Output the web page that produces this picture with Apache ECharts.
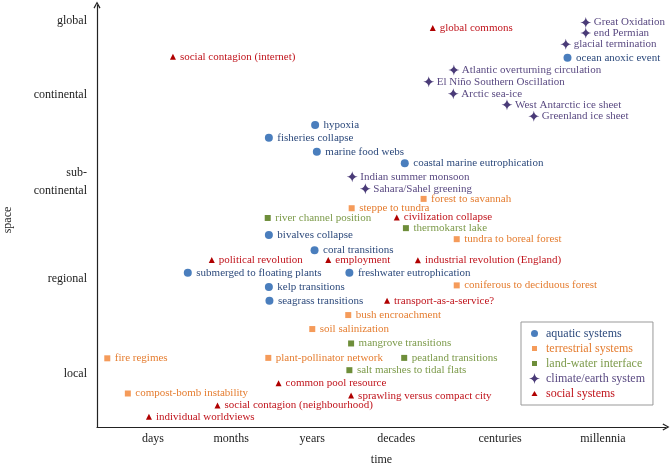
<!DOCTYPE html>
<html><head><meta charset="utf-8">
<script src="https://cdn.jsdelivr.net/npm/echarts@6/dist/echarts.min.js"></script>
<style>html,body{margin:0;padding:0;background:#fff}#c{width:671px;height:468px}</style>
</head><body><div id="c"></div>
<script>
// Axis tick labels and their positions (arbitrary axis units)
const timeLabels = ['days', 'months', 'years', 'decades', 'centuries', 'millennia'];
const timeTicks = [0.98, 2.35, 3.77, 5.24, 7.06, 8.86];
const spaceLabels = ['local', 'regional', 'sub-\ncontinental', 'continental', 'global'];
const spaceTicks = [1.25, 3.49, 5.78, 7.83, 9.58];

// Series: [name, time position, space position]
const aquatic = [
  ['hypoxia', 3.82, 7.12],
  ['fisheries collapse', 3.01, 6.82],
  ['marine food webs', 3.85, 6.49],
  ['coastal marine eutrophication', 5.39, 6.22],
  ['ocean anoxic event', 8.24, 8.71],
  ['bivalves collapse', 3.01, 4.53],
  ['coral transitions', 3.81, 4.17],
  ['submerged to floating plants', 1.59, 3.64],
  ['freshwater eutrophication', 4.42, 3.64],
  ['kelp transitions', 3.01, 3.30],
  ['seagrass transitions', 3.02, 2.98]
];
const terrestrial = [
  ['steppe to tundra', 4.46, 5.16],
  ['forest to savannah', 5.72, 5.38],
  ['tundra to boreal forest', 6.30, 4.43],
  ['coniferous to deciduous forest', 6.30, 3.34],
  ['bush encroachment', 4.40, 2.64],
  ['soil salinization', 3.77, 2.31],
  ['fire regimes', 0.18, 1.62],
  ['plant-pollinator network', 3.00, 1.63],
  ['compost-bomb instability', 0.54, 0.79]
];
const landWater = [
  ['river channel position', 2.99, 4.93],
  ['thermokarst lake', 5.41, 4.69],
  ['mangrove transitions', 4.45, 1.97],
  ['peatland transitions', 5.38, 1.63],
  ['salt marshes to tidal flats', 4.42, 1.34]
];
const climate = [
  ['Great Oxidation', 8.56, 9.54],
  ['end Permian', 8.56, 9.29],
  ['glacial termination', 8.21, 9.03],
  ['Atlantic overturning circulation', 6.25, 8.42],
  ['El Niño Southern Oscillation', 5.81, 8.14],
  ['Arctic sea-ice', 6.24, 7.86],
  ['West Antarctic ice sheet', 7.18, 7.60],
  ['Greenland ice sheet', 7.65, 7.33],
  ['Indian summer monsoon', 4.47, 5.90],
  ['Sahara/Sahel greening', 4.70, 5.62]
];
const social = [
  ['social contagion (internet)', 1.33, 8.73],
  ['global commons', 5.88, 9.41],
  ['civilization collapse', 5.25, 4.94],
  ['political revolution', 2.01, 3.94],
  ['employment', 4.05, 3.94],
  ['industrial revolution (England)', 5.62, 3.93],
  ['transport-as-a-service?', 5.08, 2.98],
  ['common pool resource', 3.18, 1.03],
  ['sprawling versus compact city', 4.45, 0.74],
  ['social contagion (neighbourhood)', 2.11, 0.51],
  ['individual worldviews', 0.91, 0.24]
];

const SERIF = "'Liberation Serif', 'DejaVu Serif', serif";
const STAR = 'path://M10,0Q11,9,20,10Q11,11,10,20Q9,11,0,10Q9,9,10,0Z';
const ARROW = 'path://M0,9L5,0L10,9L8.4,10L5,3.2L1.6,10Z';

const styles = {
  'aquatic systems':        {data: aquatic,     symbol: 'circle',   size: 8,  dist: 4.5, mark: '#4a7ebd', text: '#2d4a7c',
                             icon: 'path://M0,0M13,13M3,6.5A3.5,3.5,0,1,1,10,6.5A3.5,3.5,0,1,1,3,6.5Z'},
  'terrestrial systems':    {data: terrestrial, symbol: 'rect',     size: 6,  dist: 4.5, mark: '#f59b5a', text: '#e57d30',
                             icon: 'path://M0,0M13,13M4,4L9,4L9,9L4,9Z'},
  'land-water interface':   {data: landWater,   symbol: 'rect',     size: 6,  dist: 4.5, mark: '#6e8e3a', text: '#7d9b4b',
                             icon: 'path://M0,0M13,13M4,4L9,4L9,9L4,9Z'},
  'climate/earth system':   {data: climate,     symbol: STAR,       size: 11, dist: 2.5, mark: '#4a3b78', text: '#5a4a82',
                             icon: 'path://M0,0M26,26M13,2Q14,12,24,13Q14,14,13,24Q12,14,2,13Q12,12,13,2Z'},
  'social systems':         {data: social,      symbol: 'triangle', size: 6,  dist: 4,   mark: '#b00000', text: '#c0141c',
                             icon: 'path://M0,0M13,13M6.5,4L9.5,9L3.5,9Z'}
};

const names = Object.keys(styles);

function pick(ticks, labels, v) {
  let best = 0;
  for (let i = 1; i < ticks.length; i++) if (Math.abs(ticks[i] - v) < Math.abs(ticks[best] - v)) best = i;
  return labels[best];
}

const series = names.map(n => {
  const s = styles[n];
  return {
    name: n,
    type: 'scatter',
    symbol: s.symbol,
    symbolSize: s.size,
    itemStyle: {color: s.mark, opacity: 1},
    label: {
      show: true, position: 'right', distance: s.dist, formatter: '{b}',
      color: s.text, fontFamily: SERIF, fontSize: 11
    },
    emphasis: {disabled: true},
    data: s.data.map(d => ({name: d[0], value: [d[1], d[2]]}))
  };
});

const chart = echarts.init(document.getElementById('c'), null, {renderer: 'canvas'});
chart.setOption({
  animation: false,
  backgroundColor: '#fff',
  grid: {left: 97, right: 5, top: 5, bottom: 41, containLabel: false, outerBoundsMode: 'none'},
  xAxis: {
    type: 'value', min: 0, max: 9.965,
    name: 'time', nameLocation: 'middle', nameGap: 27,
    nameTextStyle: {fontFamily: SERIF, fontSize: 12, color: '#222'},
    axisLine: {show: true, symbol: ['none', ARROW], symbolSize: [8, 7], lineStyle: {color: '#222', width: 1.2}},
    axisTick: {show: false},
    splitLine: {show: false},
    axisLabel: {
      customValues: timeTicks, margin: 6,
      formatter: v => pick(timeTicks, timeLabels, v),
      fontFamily: SERIF, fontSize: 12, color: '#222'
    }
  },
  yAxis: {
    type: 'value', min: 0, max: 9.953,
    name: 'space', nameLocation: 'middle', nameGap: 83, nameRotate: 90,
    nameTextStyle: {fontFamily: SERIF, fontSize: 12, color: '#222', padding: [0, 8, 0, 0]},
    axisLine: {show: true, symbol: ['none', ARROW], symbolSize: [8, 7], lineStyle: {color: '#222', width: 1.2}},
    axisTick: {show: false},
    splitLine: {show: false},
    axisLabel: {
      customValues: spaceTicks, margin: 10,
      formatter: v => pick(spaceTicks, spaceLabels, v),
      fontFamily: SERIF, fontSize: 12, color: '#222', lineHeight: 18
    }
  },
  legend: {
    orient: 'vertical', left: 521, top: 322,
    padding: [5, 8, 5, 7],
    itemWidth: 13, itemHeight: 13, itemGap: 2,
    backgroundColor: '#fff', borderColor: '#999', borderWidth: 1,
    textStyle: {fontFamily: SERIF, fontSize: 12},
    selectedMode: false,
    data: names.map(n => ({name: n, icon: styles[n].icon, textStyle: {color: styles[n].text}}))
  },
  series: series
});
</script>
</body></html>
